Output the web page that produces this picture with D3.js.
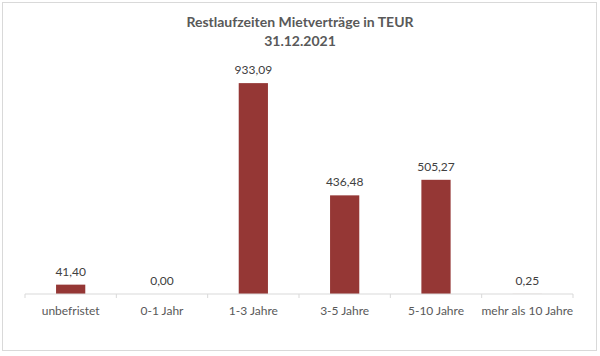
<!DOCTYPE html>
<html><head><meta charset="utf-8">
<script src="https://cdn.jsdelivr.net/npm/d3@7"></script>
<style>body{margin:0;background:#fff}svg{display:block}</style>
</head><body>
<script>
const categories = ["unbefristet","0-1 Jahr","1-3 Jahre","3-5 Jahre","5-10 Jahre","mehr als 10 Jahre"];
const values = [41.40, 0.00, 933.09, 436.48, 505.27, 0.25];
const valueLabels = ["41,40","0,00","933,09","436,48","505,27","0,25"];
const titleLines = ["Restlaufzeiten Mietverträge in TEUR","31.12.2021"];

const W=600,H=356;
const svg=d3.select("body").append("svg").attr("width",W).attr("height",H);
svg.append("rect").attr("x",2.5).attr("y",2.5).attr("width",594).attr("height",348)
  .attr("fill","#fff").attr("stroke","#d9d9d9").attr("stroke-width",1);

const font="Lato, 'Open Sans', sans-serif";
const x=d3.scaleBand().domain(categories).range([25,573]).paddingInner(0.68).paddingOuter(0.34);
const y=d3.scaleLinear().domain([0,1000]).range([294,68]);

svg.append("g").selectAll("text").data(titleLines).join("text")
  .attr("x",300).attr("y",(d,i)=>26.5+i*19).attr("text-anchor","middle")
  .attr("font-family",font).attr("font-weight","bold").attr("font-size",14)
  .attr("fill","#595959").text(d=>d);

svg.append("g").selectAll("rect").data(values).join("rect")
  .attr("x",(d,i)=>x(categories[i])).attr("width",x.bandwidth())
  .attr("y",d=>y(d)).attr("height",d=>y(0)-y(d)).attr("fill","#953735");

svg.append("g").selectAll("text").data(values).join("text")
  .attr("x",(d,i)=>x(categories[i])+x.bandwidth()/2).attr("y",d=>y(d)-9)
  .attr("text-anchor","middle").attr("font-family",font).attr("font-size",12)
  .attr("fill","#404040").text((d,i)=>valueLabels[i]);

const ax=svg.append("g").attr("transform","translate(0,294)");
ax.append("line").attr("x1",25).attr("x2",573).attr("stroke","#d9d9d9");
const step=x.step();
ax.selectAll("line.t").data(d3.range(categories.length+1)).join("line").attr("class","t")
  .attr("x1",i=>25+i*step).attr("x2",i=>25+i*step).attr("y1",0).attr("y2",4).attr("stroke","#d9d9d9");
ax.selectAll("text").data(categories).join("text")
  .attr("x",d=>x(d)+x.bandwidth()/2).attr("y",21).attr("text-anchor","middle")
  .attr("font-family",font).attr("font-size",12).attr("fill","#595959").text(d=>d);
</script>
</body></html>
